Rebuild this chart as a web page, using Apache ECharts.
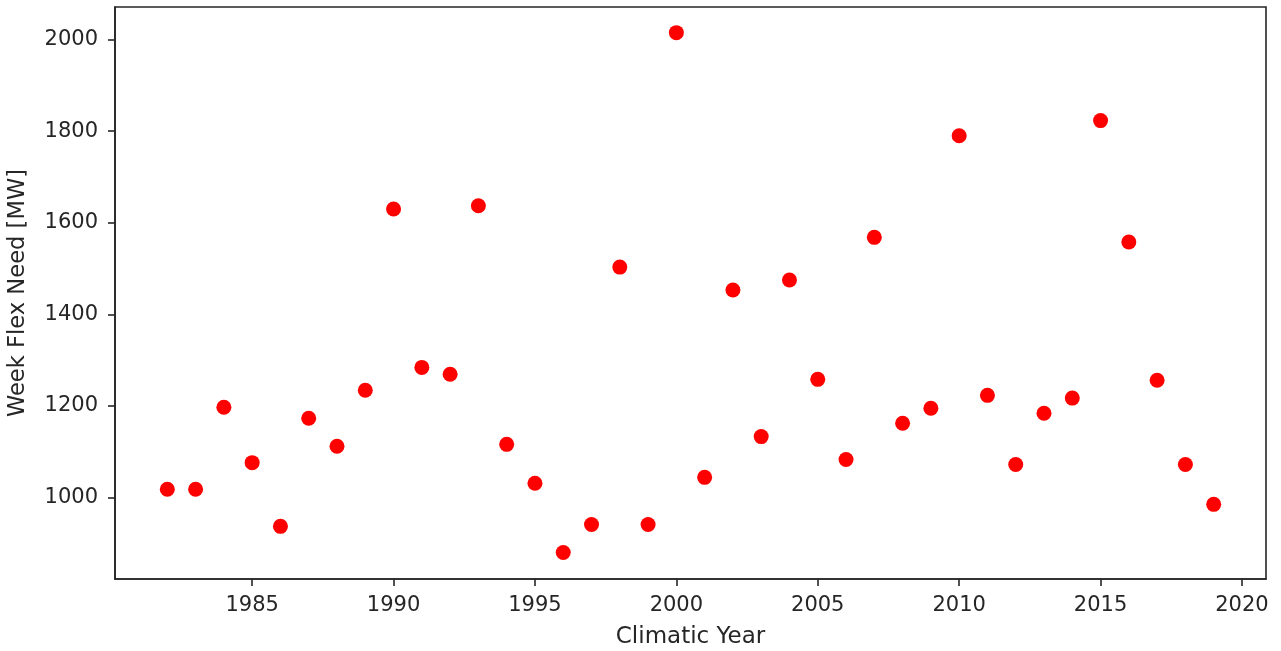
<!DOCTYPE html>
<html>
<head>
<meta charset="utf-8">
<script src="https://cdn.jsdelivr.net/npm/echarts@6/dist/echarts.min.js"></script>
<style>
  html, body { margin: 0; padding: 0; background: #fff; }
  #chart { width: 1281px; height: 651px; }
</style>
</head>
<body>
<div id="chart"></div>
<script>
// climatic years and weekly flexibility need (MW)
const years = [
  1982, 1983, 1984, 1985, 1986, 1987, 1988, 1989, 1990, 1991,
  1992, 1993, 1994, 1995, 1996, 1997, 1998, 1999, 2000, 2001,
  2002, 2003, 2004, 2005, 2006, 2007, 2008, 2009, 2010, 2011,
  2012, 2013, 2014, 2015, 2016, 2017, 2018, 2019
];
const flexNeed = [
  1018, 1018, 1197, 1076, 937, 1173, 1112, 1234, 1630, 1284,
  1269, 1637, 1116, 1031, 880, 941, 1503, 941, 2015, 1044,
  1453, 1133, 1475, 1258, 1083, 1568, 1162, 1195, 1790, 1223,
  1072, 1184, 1217, 1823, 1558, 1256, 1072, 985
];
const xTicks = [1985, 1990, 1995, 2000, 2005, 2010, 2015, 2020];
const yTicks = [1000, 1200, 1400, 1600, 1800, 2000];

const font = "DejaVu Sans";
const dark = "#262626";

const chart = echarts.init(document.getElementById("chart"));
chart.setOption({
  animation: false,
  grid: {
    left: 115,
    right: 15,
    top: 7,
    bottom: 72,
    outerBoundsMode: "none",
    containLabel: false,
    show: true,
    borderColor: dark,
    borderWidth: 1.6
  },
  xAxis: {
    type: "value",
    min: 1980.15,
    max: 2020.85,
    name: "Climatic Year",
    nameLocation: "middle",
    nameGap: 47,
    nameTextStyle: { fontFamily: font, fontSize: 23, color: dark },
    axisLine: { show: true, onZero: false, lineStyle: { color: dark, width: 1.6 } },
    axisTick: { show: true, length: 7, customValues: xTicks, lineStyle: { color: dark, width: 1.6 } },
    axisLabel: {
      customValues: xTicks,
      formatter: v => String(v),
      fontFamily: font, fontSize: 21, color: dark, margin: 16
    },
    splitLine: { show: false }
  },
  yAxis: {
    type: "value",
    min: 822,
    max: 2071,
    name: "Week Flex Need [MW]",
    nameLocation: "middle",
    nameGap: 85,
    nameTextStyle: { fontFamily: font, fontSize: 22.6, color: dark },
    axisLine: { show: true, onZero: false, lineStyle: { color: dark, width: 1.6 } },
    axisTick: { show: true, length: 7, customValues: yTicks, lineStyle: { color: dark, width: 1.6 } },
    axisLabel: {
      customValues: yTicks,
      formatter: v => String(v),
      fontFamily: font, fontSize: 21, color: dark, margin: 17
    },
    splitLine: { show: false }
  },
  series: [
    {
      type: "scatter",
      data: years.map((y, i) => [y, flexNeed[i]]),
      symbol: "circle",
      symbolSize: 15,
      itemStyle: { color: "#ff0000", opacity: 1 }
    }
  ]
});
</script>
</body>
</html>
